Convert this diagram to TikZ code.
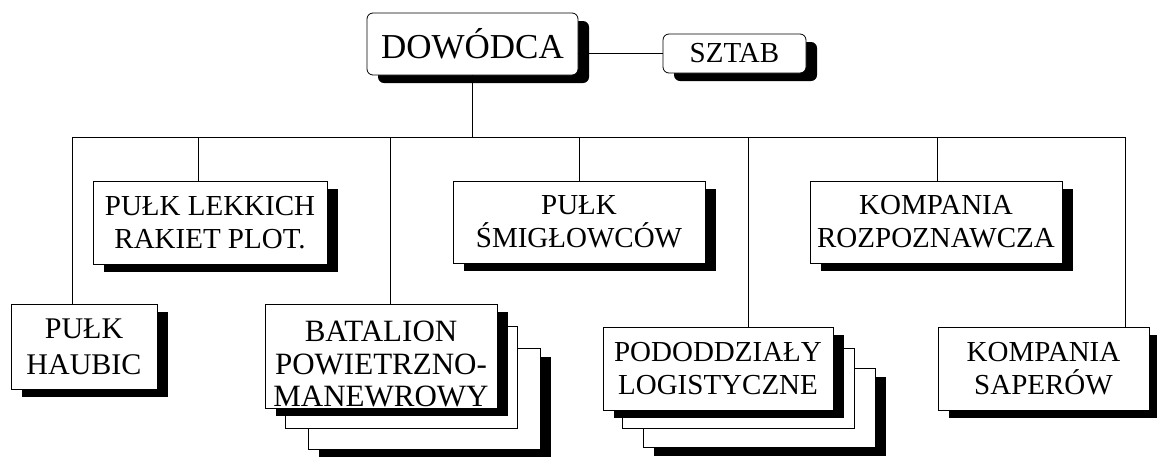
\documentclass[tikz,border=0pt]{standalone}
\usepackage{fontspec}
\setmainfont{Liberation Serif}
\usetikzlibrary{shadows}

\begin{document}
\begin{tikzpicture}[x=1pt, y=-1pt,
		unit/.style={draw, fill=white, line width=0.8pt, align=center, inner sep=0pt,
			drop shadow={shadow xshift=11pt, shadow yshift=-8pt, fill=black, opacity=1},
			font=\fontsize{29}{33}\selectfont},
		topunit/.style={unit, rounded corners=6pt},
		backunit/.style={draw, fill=white, line width=0.8pt, inner sep=0pt},
		link/.style={line width=0.8pt}]
		\useasboundingbox (0,0) rectangle (1157,456);
		
		% dowodca i sztab
		\node[topunit, minimum width=211pt, minimum height=62pt, font=\fontsize{35}{40}\selectfont] (dowodca) at (472.5,44) {DOWÓDCA};
		\node[topunit, minimum width=143pt, minimum height=39pt] (sztab) at (734.5,53.5) {SZTAB};
		
		\coordinate (s1) at (72,137);
		\coordinate (s2) at (198,137);
		\coordinate (s3) at (390,137);
		\coordinate (s4) at (579,137);
		\coordinate (s5) at (748,137);
		\coordinate (s6) at (937,137);
		\coordinate (s7) at (1125,137);
		
		\draw[link] (sztab.west) -- (sztab.west -| dowodca.east);
		\draw[link] (dowodca.south) -- (dowodca.south |- s1);
		\draw[link] (s1) -- (s7);
		
		% gorny rzad
		\node[unit, minimum width=234pt, minimum height=83pt] (lekkie) at (210,222.5) {PUŁK LEKKICH\\RAKIET PLOT.};
		\node[unit, minimum width=252pt, minimum height=82pt] (smiglowce) at (579,222) {PUŁK\\ŚMIGŁOWCÓW};
		\node[unit, minimum width=252pt, minimum height=82pt] (rozpoznanie) at (936,222) {KOMPANIA\\ROZPOZNAWCZA};
		
		% dolny rzad
		\node[unit, minimum width=146pt, minimum height=85pt, font=\fontsize{30}{36}\selectfont] (haubice) at (84,346.5) {PUŁK\\HAUBIC};
		
		\node[unit, minimum width=232pt, minimum height=101pt] (batalion3) at (424,399) {};
		\node[backunit, minimum width=232pt, minimum height=102pt] (batalion2) at (401,377) {};
		\node[unit, minimum width=232pt, minimum height=104pt, font=\fontsize{31}{32.5}\selectfont] (batalion) at (381,356) {\rule{0pt}{37pt}BATALION\\POWIETRZNO-\\MANEWROWY};
		
		\node[unit, minimum width=232pt, minimum height=79pt] (logistyka3) at (759,408) {};
		\node[backunit, minimum width=232pt, minimum height=80pt] (logistyka2) at (738,388) {};
		\node[unit, minimum width=230pt, minimum height=83pt] (logistyka) at (718,368.5) {PODODDZIAŁY\\LOGISTYCZNE};
		
		\node[unit, minimum width=211pt, minimum height=83pt] (saperzy) at (1043.5,368.5) {KOMPANIA\\SAPERÓW};
		
		\draw[link] (s1) -- (s1 |- haubice.north);
		\draw[link] (s2) -- (s2 |- lekkie.north);
		\draw[link] (s3) -- (s3 |- batalion.north);
		\draw[link] (s4) -- (s4 |- smiglowce.north);
		\draw[link] (s5) -- (s5 |- logistyka.north);
		\draw[link] (s6) -- (s6 |- rozpoznanie.north);
		\draw[link] (s7) -- (s7 |- saperzy.north);
	\end{tikzpicture}
\end{document}
